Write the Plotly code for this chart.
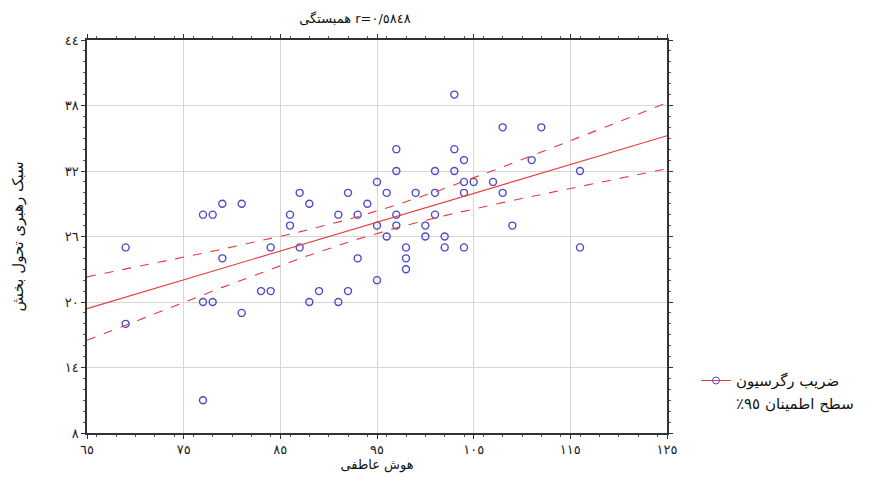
import numpy as np
import plotly.graph_objects as go

# هوش عاطفی (x) و سبک رهبری تحول بخش (y)
eq_scores = [69, 69, 77, 78, 79, 81, 79, 77, 78, 81, 77, 83, 84, 84, 86, 86,
             87, 87, 88, 88, 89, 91, 91, 92, 92, 93, 93, 94, 95, 95, 95, 96,
             96, 97, 97, 97, 97, 98, 98, 98, 99, 100, 100, 101, 101, 101, 102, 102,
             103, 103, 103, 104, 104, 104, 104, 105, 107, 108, 108, 109, 111, 112, 116, 116]
lead_scores = [25, 18, 28, 28, 29, 29, 24, 20, 20, 19, 11, 21, 21, 25, 28, 27,
               30, 25, 29, 20, 21, 28, 20, 30, 21, 28, 24, 29, 31, 27, 22, 30,
               26, 34, 32, 28, 27, 25, 24, 23, 30, 27, 26, 32, 30, 28, 26, 25,
               39, 34, 32, 33, 31, 30, 25, 31, 31, 36, 30, 27, 33, 36, 32, 25]

x_ticks = [65, 75, 85, 95, 105, 115, 125]
x_tick_text = ["٦٥", "٧٥", "٨٥", "٩٥", "١٠٥", "١١٥", "١٢٥"]
y_ticks = [8, 14, 20, 26, 32, 38, 44]
y_tick_text = ["٨", "١٤", "٢٠", "٢٦", "٣٢", "٣٨", "٤٤"]

title_text = "همبستگی r=٠/٥٨٤٨"
x_title = "هوش عاطفی"
y_title = "سبک رهبری تحول بخش"
fit_name = "ضریب رگرسیون"
ci_name = "سطح اطمینان ٩٥٪\u200f"  # RLM so the percent sign sits at the left

FONT = "DejaVu Sans"
BLUE = "#4b4bc8"
RED = "#e8393c"

# OLS fit and 95% band of the mean
x = np.array(eq_scores, dtype=float)
y = np.array(lead_scores, dtype=float)
n = len(x)
b1, b0 = np.polyfit(x, y, 1)
resid = y - (b0 + b1 * x)
s = np.sqrt((resid ** 2).sum() / (n - 2))
t_val = 1.999
xs = np.linspace(65, 125, 121)
fit = b0 + b1 * xs
half = t_val * s * np.sqrt(1 / n + (xs - x.mean()) ** 2 / ((x - x.mean()) ** 2).sum())

fig = go.Figure()
fig.add_trace(go.Scatter(x=x, y=y, mode="markers", showlegend=False,
                         marker=dict(symbol="circle-open", size=7, color=BLUE,
                                     line=dict(width=1.4, color=BLUE))))
fig.add_trace(go.Scatter(x=xs, y=fit, mode="lines", showlegend=False,
                         line=dict(color=RED, width=1.1)))
fig.add_trace(go.Scatter(x=xs, y=fit + half, mode="lines", showlegend=False,
                         line=dict(color=RED, width=1.1, dash="dash")))
fig.add_trace(go.Scatter(x=xs, y=fit - half, mode="lines", showlegend=False,
                         line=dict(color=RED, width=1.1, dash="dash")))
# legend entries
fig.add_trace(go.Scatter(x=[None], y=[None], mode="lines+markers", name=fit_name,
                         line=dict(color=RED, width=1),
                         marker=dict(symbol="circle-open", size=7, color=BLUE)))
fig.add_trace(go.Scatter(x=[None], y=[None], mode="lines", name=ci_name,
                         line=dict(color="rgba(255,255,255,0)", width=1)))

axis_common = dict(showline=True, linecolor="#333", linewidth=1.5, mirror="allticks",
                   ticks="outside", ticklen=4, tickcolor="#333", automargin=False,
                   showgrid=True, gridcolor="#d6d6d6", gridwidth=1, zeroline=False,
                   tickfont=dict(family=FONT, size=13, color="#222"))

fig.update_xaxes(range=[65, 125], tickvals=x_ticks, ticktext=x_tick_text,
                 minor=dict(dtick=2, ticklen=2, ticks="outside", tickcolor="#555", showgrid=False),
                 title=dict(text=x_title, font=dict(family=FONT, size=13, color="#111"), standoff=0),
                 **axis_common)
fig.update_yaxes(range=[8, 44], tickvals=y_ticks, ticktext=y_tick_text,
                 minor=dict(dtick=1, ticklen=2, ticks="outside", tickcolor="#555", showgrid=False),
                 title=dict(text=y_title, font=dict(family=FONT, size=15, color="#111"), standoff=37),
                 **axis_common)

# the page body adds an 8px offset, so margins are shifted to land the plot box on 87..667 / 40..433
fig.update_layout(
    width=874, height=499,
    margin=dict(l=79, r=215, t=32, b=74),
    paper_bgcolor="white", plot_bgcolor="white",
    title=dict(text=title_text, x=0.462, xref="paper", y=0.98, yref="container",
               xanchor="center", yanchor="middle", font=dict(family=FONT, size=13, color="#111")),
    legend=dict(x=1.05, y=0.175, xanchor="left", yanchor="top",
                font=dict(family=FONT, size=15, color="#111"),
                itemwidth=30, tracegroupgap=0, bgcolor="rgba(0,0,0,0)"),
    font=dict(family=FONT),
)

fig.write_html("out.html")
